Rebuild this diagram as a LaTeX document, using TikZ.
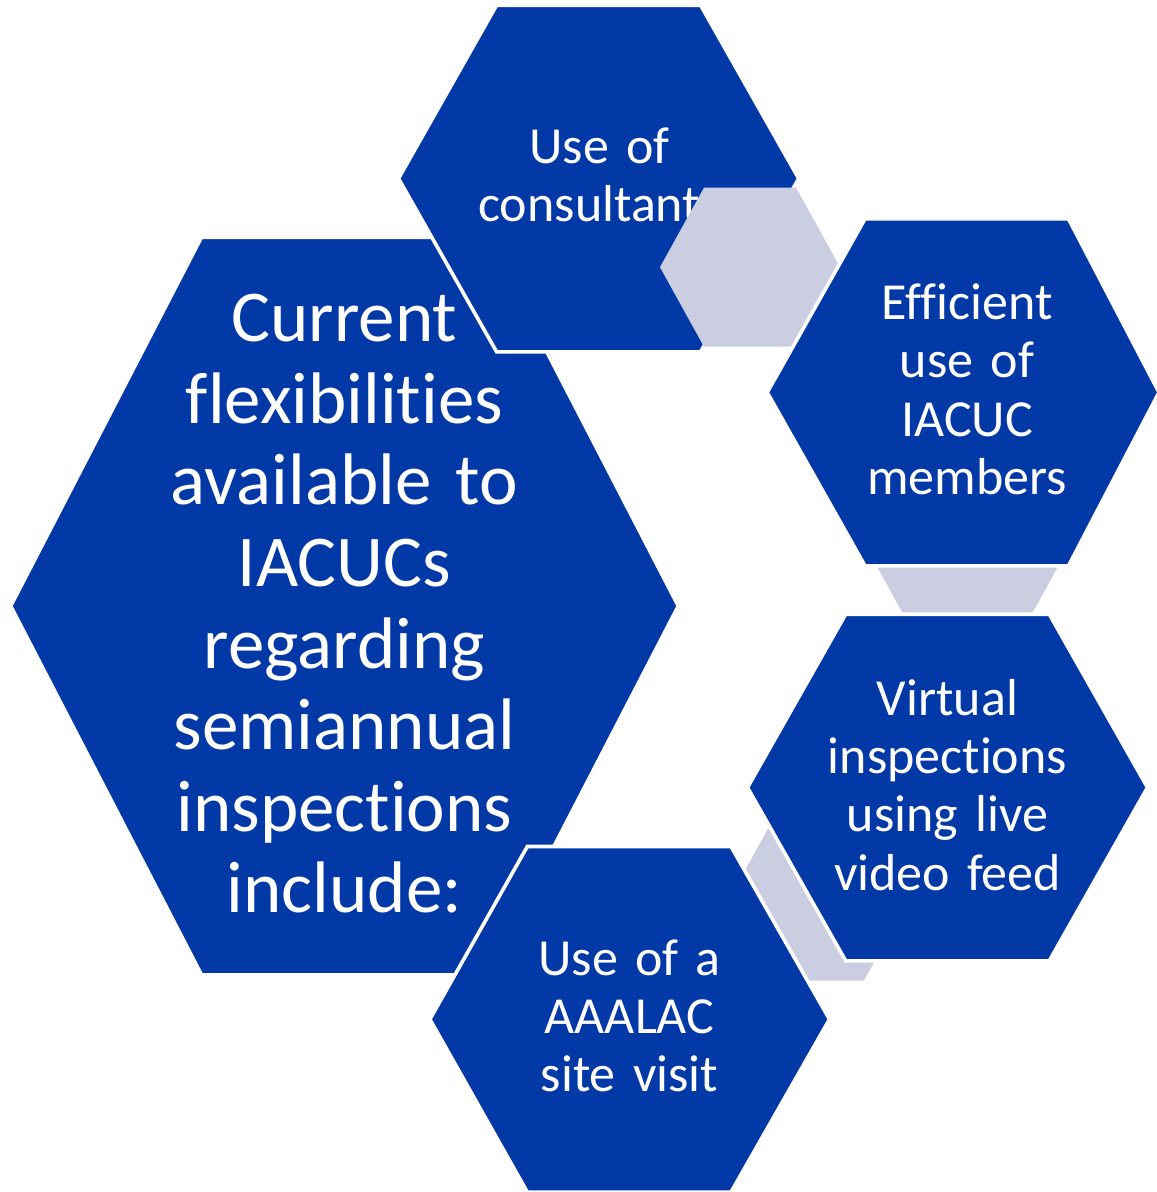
\documentclass[tikz,border=0pt]{standalone}
\usepackage{fontspec}
\setmainfont{Carlito}[Ligatures={NoCommon,NoContextual}]
\newcommand\nolig{\kern0pt{}}
\definecolor{hexblue}{RGB}{3,57,166}
\definecolor{hexgray}{RGB}{203,206,224}
\tikzset{
  bluehex/.style={fill=hexblue, draw=white, line width=3.6pt, line join=miter},
  grayhex/.style={fill=hexgray, draw=none},
  bigtxt/.style={text=white, inner sep=0pt, align=center, text width=450pt, anchor=base,
                 font=\fontsize{73}{81.6}\selectfont},
  smalltxt/.style={text=white, inner sep=0pt, align=center, text width=300pt, anchor=base,
                 font=\fontsize{52}{58.4}\selectfont}
}
\begin{document}
\begin{tikzpicture}[x=1pt,y=-1pt]
\clip (0,0) rectangle (1157,1192);
\fill[white] (0,0) rectangle (1157,1192);
% main hexagon
\path[bluehex] (10.7,606) -- (201.5,237.2) -- (487.5,237.2) -- (678.3,606)
   -- (487.5,974.8) -- (201.5,974.8) -- cycle;
% use of consultant
\path[bluehex] (398.5,178.5) -- (496.6,5.2) -- (700.6,5.2) -- (798.7,178.5)
   -- (700.6,351.8) -- (496.6,351.8) -- cycle;
\node[smalltxt] (consult) at (599.5,163) {Use of\\consultant\hphantom{s}};
% gray connectors
\path[grayhex] (660,267.2) -- (704,187.7) -- (796,187.7) -- (840,267.2)
   -- (796,346.7) -- (704,346.7) -- cycle;
\path[grayhex] (877.5,567.5) -- (921.5,488) -- (1013.5,488) -- (1057.5,567.5)
   -- (1013.5,647) -- (921.5,647) -- cycle;
\path[grayhex] (728,901) -- (772,821.5) -- (864,821.5) -- (908,901)
   -- (864,980.5) -- (772,980.5) -- cycle;
% efficient use
\path[bluehex] (767.2,392.4) -- (865,218.9) -- (1068.5,218.9) -- (1159,392.4)
   -- (1068.5,565.8) -- (865,565.8) -- cycle;
% virtual inspections
\path[bluehex] (747.5,787.5) -- (845.7,614.2) -- (1049.3,614.2) -- (1147.5,787.5)
   -- (1049.3,960.8) -- (845.7,960.8) -- cycle;
% AAALAC
\path[bluehex] (429.9,1019.3) -- (527.3,846.5) -- (731,846.5) -- (829.5,1019.3)
   -- (731,1192.1) -- (527.3,1192.1) -- cycle;
% texts
\node[bigtxt] (main) at (344.5,341.7) {Current\\f\nolig lexibilit\nolig ies\\available to\\IACUCs\\regarding\\semiannual\\inspections\\include:};
\node[smalltxt] (effic) at (967,319.3) {Ef\nolig f\nolig icient\\use of\\IACUC\\members};
\node[smalltxt] (virtual) at (947.5,715) {Virtual\\inspections\\using live\\video feed};
\node[smalltxt] (aaalac) at (629.5,975) {Use of a\\AAALAC\\site visit};
\end{tikzpicture}
\end{document}
